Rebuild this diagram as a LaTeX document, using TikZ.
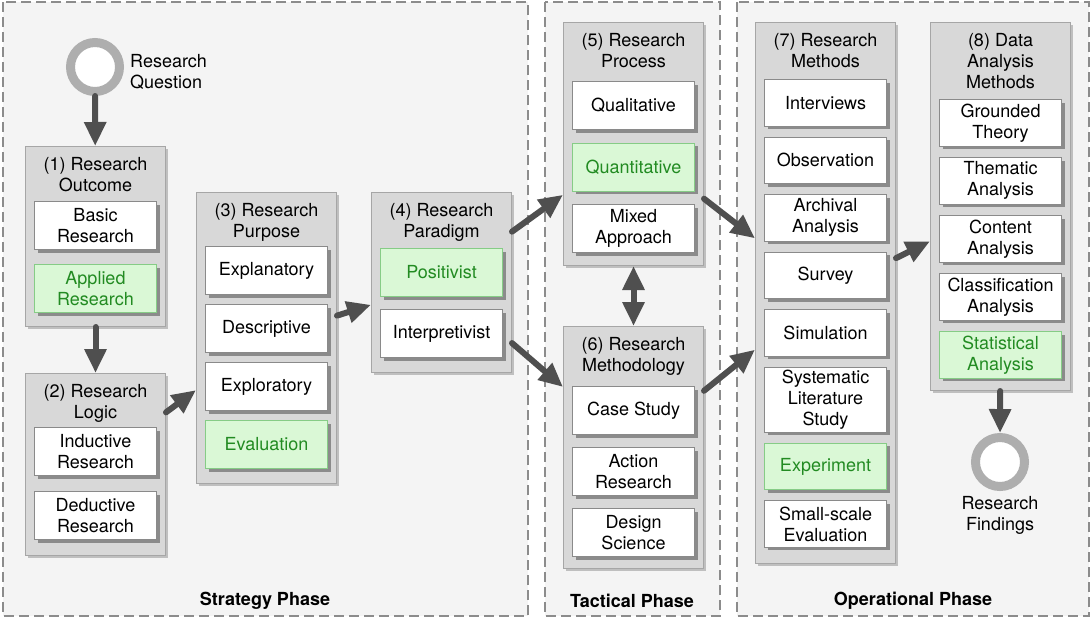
\documentclass[tikz,border=0pt]{standalone}
\usepackage{fontspec}
\setmainfont{TeX Gyre Heros}
\usepackage{tikz}
\usetikzlibrary{arrows.meta,positioning,shadows}
\definecolor{Ink}{HTML}{4F4F4F}
\definecolor{PanelFill}{HTML}{F4F4F4}
\definecolor{PanelLine}{HTML}{8C8C8C}
\definecolor{GroupFill}{HTML}{D8D8D8}
\definecolor{GroupLine}{HTML}{A6A6A6}
\definecolor{ItemLine}{HTML}{8A8A8A}
\definecolor{Green}{HTML}{228B22}
\definecolor{GreenLight}{HTML}{DAF8D6}
\definecolor{GreenLine}{HTML}{86CC86}
\definecolor{Ring}{HTML}{AEAEAE}
\tikzset{panel/.style={draw=PanelLine,fill=PanelFill,line width=1.8pt,dash pattern=on 10pt off 5pt},group/.style={draw=GroupLine,fill=GroupFill,line width=1pt,anchor=north west,minimum width=140pt,drop shadow={shadow xshift=2.5pt,shadow yshift=-2.5pt,fill=black!45}},head/.style={align=center,anchor=north,inner sep=0pt,outer sep=0pt},item/.style={draw=ItemLine,fill=white,line width=1pt,minimum width=122pt,minimum height=#1,align=center,inner xsep=2pt,inner ysep=3pt,drop shadow={shadow xshift=3pt,shadow yshift=-3pt,fill=black!75}},item/.default=48pt,chosen/.style={item=#1,draw=GreenLine,fill=GreenLight,text=Green},chosen/.default=48pt,ring/.style={circle,draw=Ring,line width=9pt,fill=white,minimum size=49pt,inner sep=0pt},flow/.style={-{Triangle[length=24pt,width=21pt]},line width=6pt,draw=Ink,line cap=round},phase/.style={font=\fontsize{18}{21}\selectfont\bfseries}}

\begin{document}
\begin{tikzpicture}[x=1pt,y=-1pt,every node/.style={font=\fontsize{18}{21}\selectfont}]
  \useasboundingbox (0,0) rectangle (1092,619);
  % phases
  \draw[panel] (3,2) rectangle (528,616);
  \draw[panel] (545,2) rectangle (720,616);
  \draw[panel] (737,2) rectangle (1089,616);
  \node[phase](sp) at (265,601){Strategy Phase};
  \node[phase](tp) at (632,601){Tactical Phase};
  \node[phase](op) at (913,601){Operational Phase};
  % strategy phase
  \node[ring](rq) at (95,67){};
  \node[right=6pt of rq,yshift=-4.5pt,align=left,inner sep=0pt](rqt){Research\\Question};
  \node[group,minimum height=180pt](g1) at (25,146){};
  \node[head,below=11pt of g1.north](h1){(1) Research\\Outcome};
  \node[item,below=55pt of g1.north](basic){Basic\\Research};
  \node[chosen,below=14pt of basic](applied){Applied\\Research};
  \node[group,minimum height=182pt](g2) at (25,373){};
  \node[head,below=11pt of g2.north](h2){(2) Research\\Logic};
  \node[item,below=54pt of g2.north](inductive){Inductive\\Research};
  \node[item,below=15pt of inductive](deductive){Deductive\\Research};
  \node[group,minimum height=291pt](g3) at (196,192){};
  \node[head,below=11pt of g3.north](h3){(3) Research\\Purpose};
  \node[item,below=54pt of g3.north](explanatory){Explanatory};
  \node[item,below=9pt of explanatory](descriptive){Descriptive};
  \node[item,below=9pt of descriptive](exploratory){Exploratory};
  \node[chosen,below=9pt of exploratory](evaluation){Evaluation};
  \node[group,minimum height=180pt](g4) at (371,192){};
  \node[head,below=11pt of g4.north](h4){(4) Research\\Paradigm};
  \node[chosen,below=56pt of g4.north](positivist){Positivist};
  \node[item,below=12pt of positivist](interpretivist){Interpretivist};
  % tactical phase
  \node[group,minimum height=243pt](g5) at (563,22){};
  \node[head,below=11pt of g5.north](h5){(5) Research\\Process};
  \node[item,below=59pt of g5.north](qualitative){Qualitative};
  \node[chosen,below=12.5pt of qualitative](quantitative){Quantitative};
  \node[item,below=12.5pt of quantitative](mixed){Mixed\\Approach};
  \node[group,minimum height=242pt](g6) at (563,326){};
  \node[head,below=11pt of g6.north](h6){(6) Research\\Methodology};
  \node[item,below=60pt of g6.north](casestudy){Case Study};
  \node[item,below=12pt of casestudy](action){Action\\Research};
  \node[item,below=12pt of action](design){Design\\Science};
  % operational phase
  \node[group,minimum height=541pt](g7) at (755,22){};
  \node[head,below=11pt of g7.north](h7){(7) Research\\Methods};
  \node[item=46.5pt,below=57pt of g7.north](interviews){Interviews};
  \node[item=46.5pt,below=10pt of interviews](observation){Observation};
  \node[item=46.5pt,below=10pt of observation](archival){Archival\\Analysis};
  \node[item=46.5pt,below=10pt of archival](survey){Survey};
  \node[item=46.5pt,below=10pt of survey](simulation){Simulation};
  \node[item=46.5pt,below=10pt of simulation](slr){Systematic\\Literature\\Study};
  \node[chosen=46.5pt,below=10pt of slr](experiment){Experiment};
  \node[item=46.5pt,below=10pt of experiment](smallscale){Small-scale\\Evaluation};
  \node[group,minimum height=368pt](g8) at (930,22){};
  \node[head,below=11pt of g8.north](h8){(8) Data\\Analysis\\Methods};
  \node[item=46.5pt,below=77pt of g8.north](grounded){Grounded\\Theory};
  \node[item=46.5pt,below=10.5pt of grounded](thematic){Thematic\\Analysis};
  \node[item=46.5pt,below=10.5pt of thematic](content){Content\\Analysis};
  \node[item=46.5pt,below=10.5pt of content](classification){Classification\\Analysis};
  \node[chosen=46.5pt,below=10.5pt of classification](statistical){Statistical\\Analysis};
  \node[ring](rf) at (1000,462){};
  \node[below=5pt of rf,align=center,inner sep=0pt](rft){Research\\Findings};
  % connectors
  \draw[flow](rq)--(g1);\draw[flow](g1)--(g2);\draw[flow](g2)--(g3);\draw[flow](g3)--(g4);
  \draw[flow](g4)--(g5);\draw[flow](g4)--(g6);
  \draw[flow,{Triangle[length=24pt,width=21pt]}-{Triangle[length=24pt,width=21pt]}](g5)--(g6);
  \draw[flow](g5)--(g7);\draw[flow](g6)--(g7);\draw[flow](g7)--(g8);\draw[flow](g8)--(rf);
\end{tikzpicture}
\end{document}
